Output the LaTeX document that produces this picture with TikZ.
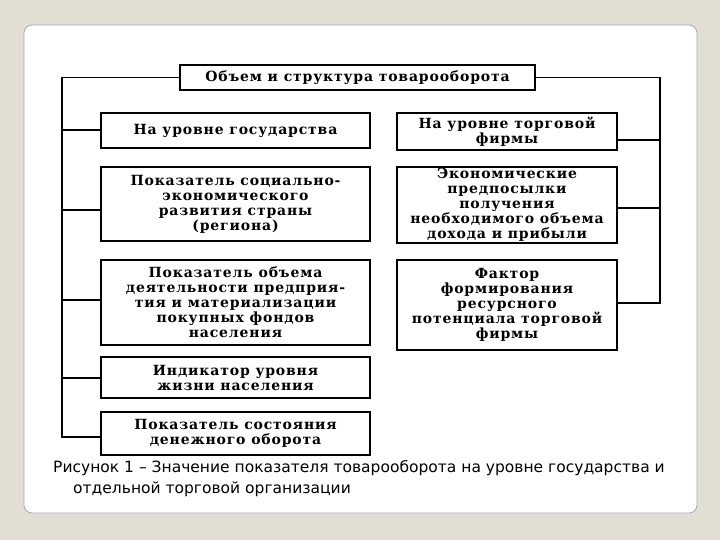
\documentclass[tikz,border=0pt]{standalone}
\usepackage{fontspec}
\setmainfont{DejaVu Serif}
\newfontfamily\capfont{DejaVu Sans}
\definecolor{bgbeige}{HTML}{E2DED4}
\definecolor{framegray}{HTML}{A8A8A8}
\begin{document}
\begin{tikzpicture}[x=1pt,y=-1pt,
  boxstyle/.style={draw=black, line width=1.6pt, inner sep=0pt, align=center,
    font=\bfseries\fontsize{14}{15}\selectfont\addfontfeature{LetterSpace=6}},
  lnk/.style={draw=black, line width=1.3pt}]
\useasboundingbox (0,0) rectangle (720,540);
\fill[bgbeige] (0,0) rectangle (720,540);
\fill[black!12, rounded corners=9] (26,27) rectangle (699,515);
\draw[framegray, fill=white, line width=0.8pt, rounded corners=8] (24,25) rectangle (697,513);

\node[boxstyle, minimum width=355pt, minimum height=25pt] (top) at (357.5,77.5) {Объем и структура товарооборота};

\node[boxstyle, minimum width=269pt, minimum height=35pt] (l1) at (235.5,130.5) {На уровне государства};
\node[boxstyle, minimum width=269pt, minimum height=74pt] (l2) at (235.5,204) {Показатель социально-\\экономического\\развития страны\\(региона)};
\node[boxstyle, minimum width=269pt, minimum height=85pt] (l3) at (235.5,302.5) {Показатель объема\\деятельности предприя-\\тия и материализации\\покупных фондов\\населения};
\node[boxstyle, minimum width=269pt, minimum height=41pt] (l4) at (235.5,377.5) {Индикатор уровня\\жизни населения};
\node[boxstyle, minimum width=269pt, minimum height=43pt] (l5) at (235.5,433.5) {Показатель состояния\\денежного оборота};

\node[boxstyle, minimum width=220pt, minimum height=37pt] (r1) at (507,131.5) {На уровне торговой\\фирмы};
\node[boxstyle, minimum width=220pt, minimum height=76pt] (r2) at (507,205) {Экономические\\предпосылки\\получения\\необходимого объема\\дохода и прибыли};
\node[boxstyle, minimum width=220pt, minimum height=90pt] (r3) at (507,305) {Фактор\\формирования\\ресурсного\\потенциала торговой\\фирмы};

\coordinate (lt) at (62,77.5);
\coordinate (lb) at (62,437);
\coordinate (rt) at (660,77.5);
\coordinate (rb) at (660,303);

\draw[lnk] (top.west) -- (lt) -- (lb) -- (lb -| l5.west);
\draw[lnk] (top.east) -- (rt) -- (rb) -- (rb -| r3.east);
\foreach \n/\yy in {l1/130, l2/210, l3/300, l4/378}
  \draw[lnk] (62,\yy) -- (\n.west |- 0,\yy);
\foreach \n/\yy in {r1/140, r2/208}
  \draw[lnk] (660,\yy) -- (\n.east |- 0,\yy);

\node[font=\capfont\fontsize{15.5}{20}\selectfont, anchor=west, inner sep=0pt] (cap1) at (53,468) {Рисунок 1 – Значение показателя товарооборота на уровне государства и};
\node[font=\capfont\fontsize{15.5}{20}\selectfont, anchor=west, inner sep=0pt] (cap2) at (73,489) {отдельной торговой организации};
\end{tikzpicture}
\end{document}
